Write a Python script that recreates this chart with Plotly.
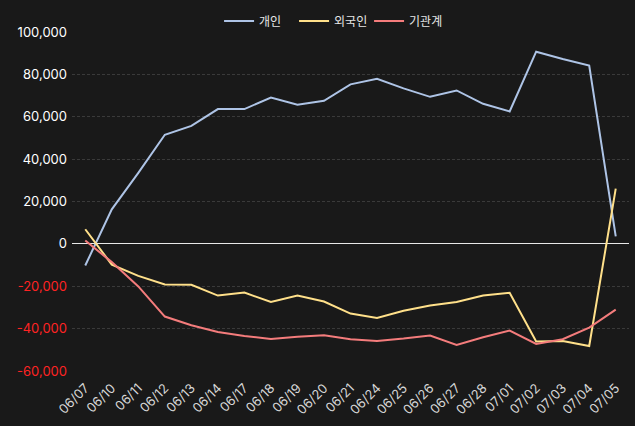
import plotly.graph_objects as go

dates = ["06/07", "06/10", "06/11", "06/12", "06/13", "06/14", "06/17", "06/18", "06/19", "06/20",
         "06/21", "06/24", "06/25", "06/26", "06/27", "06/28", "07/01", "07/02", "07/03", "07/04", "07/05"]

individual = [-10200, 16300, 33500, 51500, 55700, 63600, 63600, 69100, 65700, 67500,
              75300, 77900, 73400, 69400, 72400, 66100, 62500, 90700, 87300, 84200, 3500]
foreign = [6900, -9800, -15100, -19200, -19300, -24400, -23000, -27400, -24400, -27200,
           -32900, -35000, -31600, -29100, -27400, -24400, -23100, -46100, -45800, -48200, 26100]
institution = [1600, -8600, -20100, -34300, -38400, -41600, -43500, -44900, -43800, -43100,
               -45000, -45800, -44700, -43300, -47700, -44100, -40900, -47200, -45000, -39500, -31000]

y_ticks = [-60000, -40000, -20000, 0, 20000, 40000, 60000, 80000, 100000]

font_family = "Inter, Noto Sans CJK KR, sans-serif"

fig = go.Figure()
fig.add_trace(go.Scatter(x=dates, y=individual, mode="lines", name="개인",
                         line=dict(color="#aec4e6", width=2)))
fig.add_trace(go.Scatter(x=dates, y=foreign, mode="lines", name="외국인",
                         line=dict(color="#ffe08a", width=2)))
fig.add_trace(go.Scatter(x=dates, y=institution, mode="lines", name="기관계",
                         line=dict(color="#f47c7c", width=2)))

# negative tick labels in red
tick_text = []
for v in y_ticks:
    label = f"{v:,}"
    if v < 0:
        label = f"<span style='color:#ff2323'>{label}</span>"
    tick_text.append(label)

fig.update_layout(
    width=635, height=426,
    paper_bgcolor="#191919",
    plot_bgcolor="#191919",
    margin=dict(l=72, r=6, t=32, b=55, autoexpand=False),
    font=dict(family=font_family, color="#e6e6e6", size=13),
    legend=dict(orientation="h", x=0.466, xanchor="center", y=0.99, yanchor="bottom",
                font=dict(size=12, color="#e6e6e6", family="Noto Sans CJK KR"),
                bgcolor="rgba(0,0,0,0)", tracegroupgap=0,
                entrywidth=30, entrywidthmode="pixels"),
    showlegend=True,
)
fig.update_xaxes(
    type="category", range=[-0.5, len(dates) - 0.5],
    tickangle=-45, tickfont=dict(size=13, color="#d6d6d6"),
    showgrid=False, zeroline=False, showline=False, ticks="",
    automargin=False, ticklabelstandoff=6,
)
fig.update_yaxes(
    range=[-60000, 100000], tickvals=y_ticks, ticktext=tick_text,
    tickfont=dict(size=13, color="#ffffff"),
    showgrid=True, gridcolor="#3a3a3a", griddash="3px,2px", gridwidth=1,
    zeroline=True, zerolinecolor="#e8e8e8", zerolinewidth=1,
    showline=False, ticks="", ticklabelstandoff=4, automargin=False,
)

# drop the default page margin so the chart fills the window
fig.write_html("out.html", config={"displayModeBar": False},
               post_script="document.body.style.margin='0';document.body.style.background='#191919';")
